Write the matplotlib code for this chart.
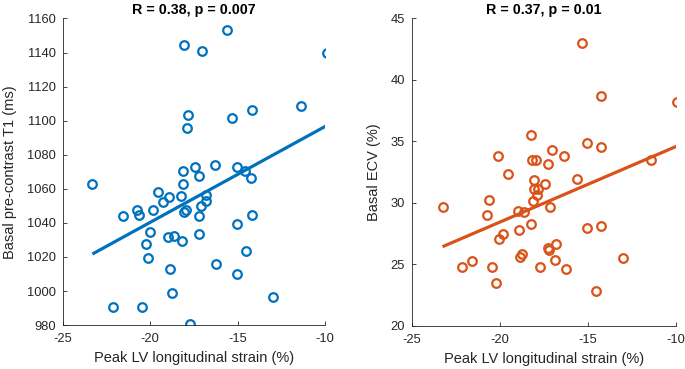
import numpy as np
import matplotlib.pyplot as plt

plt.rcParams['font.family'] = ['Liberation Sans', 'DejaVu Sans']
plt.rcParams['axes.unicode_minus'] = False

# left panel: strain vs native T1
strain_t1 = [-23.3, -22.15, -21.53, -20.77, -20.65, -20.44, -20.24, -20.14, -20.02, -19.84,
             -19.55, -19.25, -18.92, -18.95, -18.64, -18.84, -18.73, -18.22, -18.2, -18.14,
             -18.14, -18.05, -18.05, -17.95, -17.9, -17.82, -17.7, -17.43, -17.2, -17.12,
             -17.22, -17.22, -17.04, -16.83, -16.83, -16.3, -16.23, -15.62, -15.3, -15.02,
             -15.02, -15.02, -14.57, -14.5, -14.2, -14.22, -14.18, -13.0, -11.4, -9.87]
t1 = [1062.6, 990.6, 1044.2, 1047.5, 1044.6, 990.6, 1027.4, 1019.3, 1034.8, 1047.3,
      1057.9, 1052.4, 1055.2, 1031.8, 1032.1, 1012.8, 999.0, 1055.5, 1029.1, 1070.5,
      1062.6, 1144.7, 1046.5, 1047.5, 1095.4, 1103.3, 980.6, 1072.9, 1067.6, 1050.0,
      1044.2, 1033.3, 1140.8, 1056.5, 1052.9, 1074.0, 1016.1, 1153.5, 1101.3, 1072.9,
      1039.1, 1009.8, 1070.6, 1023.3, 1106.2, 1066.4, 1044.8, 996.7, 1108.5, 1139.5]

# right panel: strain vs ECV
strain_ecv = [-23.25, -22.15, -21.55, -20.73, -20.63, -20.44, -20.24, -20.13, -20.05, -19.82,
              -19.53, -18.96, -18.94, -18.63, -18.84, -18.74, -18.23, -18.24, -18.15, -18.13,
              -18.04, -18.04, -17.92, -17.9, -17.85, -17.74, -17.43, -17.25, -17.25, -17.2,
              -17.14, -17.04, -16.84, -16.85, -16.34, -16.25, -15.64, -15.35, -15.04, -15.04,
              -14.25, -14.25, -14.24, -14.53, -13.03, -11.44, -9.94]
ecv = [29.65, 24.8, 25.31, 29.0, 30.27, 24.8, 23.48, 33.82, 27.06, 27.5,
       32.34, 29.36, 27.8, 29.28, 25.6, 25.81, 35.5, 28.32, 33.48, 30.15,
       31.84, 31.13, 33.48, 30.67, 31.13, 24.8, 31.55, 33.15, 26.35, 26.16,
       29.65, 34.33, 26.65, 25.32, 33.81, 24.63, 31.97, 43.0, 34.84, 27.99,
       38.66, 34.51, 28.14, 22.85, 25.5, 33.48, 38.17]

titles = ['R = 0.38, p = 0.007', 'R = 0.37, p = 0.01']
ylabels = ['Basal pre-contrast T1 (ms)', 'Basal ECV (%)']
xlabel = 'Peak LV longitudinal strain (%)'
colors = ['#0072BD', '#D95319']

fig = plt.figure(figsize=(6.85, 3.69), dpi=100)
ax1 = fig.add_axes([0.0915, 0.119, 0.383, 0.831])
ax2 = fig.add_axes([0.601, 0.117, 0.386, 0.833])

panels = [(ax1, strain_t1, t1, (980, 1160), np.arange(980, 1161, 20)),
          (ax2, strain_ecv, ecv, (20, 45), np.arange(20, 46, 5))]

for i, (ax, x, y, ylim, yticks) in enumerate(panels):
    x = np.array(x)
    y = np.array(y)
    ax.plot(x, y, 'o', mfc='none', mec=colors[i], mew=1.6, ms=6.2)
    k, b = np.polyfit(x, y, 1)
    xx = np.array([x.min(), x.max()])
    ax.plot(xx, k * xx + b, '-', color=colors[i], lw=2.3, solid_capstyle='butt')
    ax.set_xlim(-25, -10)
    ax.set_ylim(*ylim)
    ax.set_xticks([-25, -20, -15, -10])
    ax.set_yticks(yticks)
    ax.spines['top'].set_visible(False)
    ax.spines['right'].set_visible(False)
    for s in ['left', 'bottom']:
        ax.spines[s].set_color('#262626')
        ax.spines[s].set_linewidth(0.6)
    ax.tick_params(direction='in', length=3, width=0.6, colors='#262626', labelsize=9.3, pad=5)
    ax.tick_params(axis='x', pad=6)
    ax.set_xlabel(xlabel, fontsize=10.5, color='#262626', labelpad=4)
    ax.set_ylabel(ylabels[i], fontsize=10.5, color='#262626', labelpad=7)
    ax.set_title(titles[i], fontsize=10.3, fontweight='bold', pad=3)

fig.savefig('out.png', dpi=100)
